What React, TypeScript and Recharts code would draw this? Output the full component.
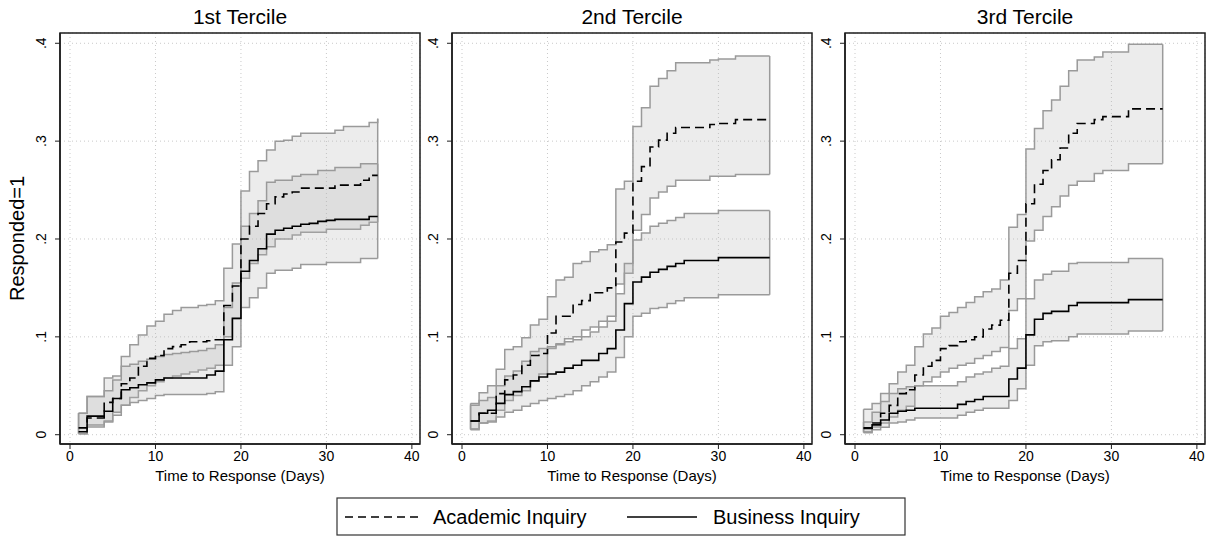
import React from 'react';
import { ComposedChart, Area, Line, XAxis, YAxis, CartesianGrid, ReferenceLine, ReferenceArea } from 'recharts';

// ---------- data ----------
const days = [1, 2, 3, 4, 5, 6, 7, 8, 9, 10, 11, 12, 13, 14, 15, 16, 17, 18, 19, 20, 21, 22, 23, 24, 25, 26, 27, 28, 29, 30, 31, 32, 33, 34, 35, 36];
const xTicks = [0, 10, 20, 30, 40];
const yTicks = [0, 0.1, 0.2, 0.3, 0.4];
const yTickLabels = ['0', '.1', '.2', '.3', '.4'];
const panelTitles = ['1st Tercile', '2nd Tercile', '3rd Tercile'];
const seriesNames = ['Academic Inquiry', 'Business Inquiry'];
const xTitle = 'Time to Response (Days)';
const yTitle = 'Responded=1';

// 1st tercile
const t1AcadEst = [.007, .017, .017, .033, .037, .052, .058, .070, .078, .081, .088, .090, .092, .095, .095, .096, .097, .132, .152, .200, .213, .226, .236, .243, .246, .248, .252, .252, .252, .252, .255, .255, .255, .260, .265, .265];
const t1AcadHi = [.022, .039, .039, .058, .060, .080, .092, .102, .111, .116, .123, .127, .130, .130, .132, .133, .137, .170, .195, .249, .269, .280, .291, .300, .301, .305, .308, .308, .308, .308, .311, .315, .315, .315, .319, .323];
const t1AcadLo = [.001, .008, .008, .013, .020, .030, .038, .045, .050, .054, .058, .060, .062, .064, .066, .068, .071, .100, .118, .160, .175, .184, .192, .200, .200, .204, .207, .207, .207, .210, .210, .210, .210, .214, .217, .217];
const t1BusEst = [.003, .019, .019, .024, .037, .046, .048, .051, .053, .056, .058, .058, .058, .058, .058, .061, .065, .097, .119, .167, .178, .190, .205, .209, .211, .213, .215, .216, .218, .219, .220, .220, .220, .220, .223, .223];
const t1BusHi = [.022, .039, .039, .045, .056, .070, .072, .075, .077, .080, .082, .083, .084, .085, .086, .088, .092, .130, .155, .213, .226, .239, .258, .260, .260, .264, .266, .266, .270, .270, .273, .273, .273, .277, .277, .277];
const t1BusLo = [.001, .010, .010, .014, .023, .030, .033, .035, .037, .040, .041, .041, .041, .041, .041, .042, .044, .071, .090, .130, .140, .150, .165, .168, .168, .170, .174, .174, .174, .176, .176, .176, .176, .180, .180, .180];

// 2nd tercile
const t2AcadEst = [.014, .022, .022, .042, .056, .061, .071, .081, .083, .104, .121, .121, .133, .137, .145, .145, .150, .197, .206, .259, .274, .294, .301, .308, .314, .314, .314, .314, .317, .318, .318, .322, .322, .322, .322, .322];
const t2AcadHi = [.032, .043, .050, .067, .087, .090, .099, .112, .118, .141, .158, .161, .175, .177, .187, .189, .194, .251, .259, .315, .334, .356, .364, .372, .380, .380, .380, .380, .383, .384, .384, .387, .387, .387, .387, .387];
const t2AcadLo = [.006, .012, .014, .025, .035, .040, .045, .055, .062, .088, .093, .098, .100, .107, .110, .116, .121, .154, .165, .209, .225, .242, .248, .254, .260, .260, .260, .260, .264, .264, .264, .266, .266, .266, .266, .266];
const t2BusEst = [.014, .022, .025, .032, .041, .044, .049, .055, .059, .062, .064, .068, .071, .076, .076, .083, .088, .107, .134, .156, .161, .166, .169, .172, .175, .178, .178, .178, .178, .181, .181, .181, .181, .181, .181, .181];
const t2BusHi = [.030, .035, .038, .050, .060, .065, .075, .085, .088, .090, .092, .095, .097, .100, .105, .110, .116, .144, .175, .199, .206, .213, .216, .219, .222, .226, .226, .226, .226, .229, .229, .229, .229, .229, .229, .229];
const t2BusLo = [.005, .012, .013, .018, .023, .025, .029, .032, .035, .037, .039, .041, .045, .050, .054, .059, .064, .079, .100, .121, .124, .129, .130, .134, .137, .140, .140, .140, .140, .143, .143, .143, .143, .143, .143, .143];

// 3rd tercile
const t3AcadEst = [.0065, .012, .022, .030, .042, .046, .061, .070, .076, .088, .091, .095, .097, .100, .108, .112, .117, .165, .178, .236, .256, .270, .281, .293, .308, .318, .318, .322, .325, .325, .325, .333, .333, .333, .333, .333];
const t3AcadHi = [.026, .032, .042, .052, .064, .071, .090, .103, .109, .121, .125, .130, .135, .141, .146, .149, .158, .212, .225, .292, .313, .331, .342, .356, .372, .383, .383, .386, .391, .391, .391, .399, .399, .399, .399, .399];
const t3AcadLo = [.003, .008, .012, .018, .025, .029, .050, .054, .059, .064, .068, .071, .073, .078, .081, .085, .089, .127, .139, .198, .209, .223, .233, .244, .255, .259, .259, .267, .270, .270, .270, .277, .277, .277, .277, .277];
const t3BusEst = [.007, .010, .015, .022, .024, .025, .027, .027, .027, .027, .027, .031, .034, .036, .039, .039, .039, .057, .068, .102, .118, .124, .126, .126, .132, .135, .135, .135, .135, .135, .135, .138, .138, .138, .138, .138];
const t3BusHi = [.013, .023, .034, .042, .047, .049, .050, .050, .050, .050, .050, .054, .059, .062, .064, .068, .070, .088, .098, .139, .158, .164, .167, .167, .175, .176, .176, .176, .176, .176, .176, .180, .180, .180, .180, .180];
const t3BusLo = [.002, .005, .0075, .012, .013, .015, .017, .017, .017, .017, .017, .020, .023, .025, .027, .027, .027, .035, .047, .071, .091, .095, .096, .096, .100, .103, .103, .103, .103, .103, .103, .106, .106, .106, .106, .106];

// ---------- layout ----------
const X_DOMAIN: [number, number] = [-1.17, 40.95];
const Y_DOMAIN: [number, number] = [-0.0095, 0.4105];
const PLOT_LEFTS = [60, 452, 845];
const PLOT_W = 360;
const PLOT_TOP = 33;
const PLOT_H = 411;
const YAXIS_W = 45;
const XAXIS_H = 30;
const FONT = '"Liberation Sans", Arial, Helvetica, sans-serif';
const BAND_FILL = '#b4b4b4';
const BAND_STROKE = '#9a9a9a';
const AXIS_COLOR = '#1e1e1e';

type PanelSeries = { aEst: number[]; aLo: number[]; aHi: number[]; bEst: number[]; bLo: number[]; bHi: number[] };
const panels: PanelSeries[] = [
  { aEst: t1AcadEst, aLo: t1AcadLo, aHi: t1AcadHi, bEst: t1BusEst, bLo: t1BusLo, bHi: t1BusHi },
  { aEst: t2AcadEst, aLo: t2AcadLo, aHi: t2AcadHi, bEst: t2BusEst, bLo: t2BusLo, bHi: t2BusHi },
  { aEst: t3AcadEst, aLo: t3AcadLo, aHi: t3AcadHi, bEst: t3BusEst, bLo: t3BusLo, bHi: t3BusHi },
];

const buildRows = (p: PanelSeries) =>
  days.map((d, i) => ({
    day: d,
    aEst: p.aEst[i],
    aBand: [p.aLo[i], p.aHi[i]],
    bEst: p.bEst[i],
    bBand: [p.bLo[i], p.bHi[i]],
  }));

const YTick = (props: any) => {
  const { x, y, payload } = props;
  const idx = yTicks.indexOf(payload.value);
  const label = idx >= 0 ? yTickLabels[idx] : String(payload.value);
  const bx = x - 7;
  return (
    <text x={bx} y={y} transform={`rotate(-90 ${bx} ${y})`} textAnchor="middle" fontSize={14} fill="#000" fontFamily={FONT}>
      {label}
    </text>
  );
};

const XTick = (props: any) => {
  const { x, y, payload } = props;
  return (
    <text x={x} y={y + 10} textAnchor="middle" fontSize={14} fill="#000" fontFamily={FONT}>
      {String(payload.value)}
    </text>
  );
};

function Panel({ p, left }: { p: PanelSeries; left: number }) {
  const rows = buildRows(p);
  const first = 0;
  const last = days.length - 1;
  const edge = (x: number, lo: number, hi: number, key: string) => (
    <ReferenceLine
      key={key}
      segment={[{ x, y: lo }, { x, y: hi }]}
      stroke={BAND_STROKE}
      strokeWidth={1.5}
      ifOverflow="visible"
    />
  );
  return (
    <div style={{ position: 'absolute', left: left - YAXIS_W, top: 0 }}>
      <ComposedChart
        width={YAXIS_W + PLOT_W + 3}
        height={PLOT_TOP + PLOT_H + XAXIS_H}
        data={rows}
        margin={{ top: PLOT_TOP, right: 3, bottom: 0, left: 0 }}
      >
        <CartesianGrid stroke="#c9c9c9" strokeDasharray="1 3" strokeWidth={1} />
        <XAxis
          dataKey="day"
          type="number"
          domain={X_DOMAIN}
          ticks={xTicks}
          allowDataOverflow
          height={XAXIS_H}
          tickSize={5}
          tick={<XTick />}
          axisLine={{ stroke: AXIS_COLOR, strokeWidth: 1.5 }}
          tickLine={{ stroke: AXIS_COLOR, strokeWidth: 1 }}
        />
        <YAxis
          type="number"
          domain={Y_DOMAIN}
          ticks={yTicks}
          allowDataOverflow
          width={YAXIS_W}
          tickSize={5}
          tick={<YTick />}
          axisLine={{ stroke: AXIS_COLOR, strokeWidth: 1.5 }}
          tickLine={{ stroke: AXIS_COLOR, strokeWidth: 1 }}
        />
        <Area dataKey="aBand" type="stepAfter" stroke={BAND_STROKE} strokeWidth={1.5} fill={BAND_FILL} fillOpacity={0.25} isAnimationActive={false} dot={false} activeDot={false} />
        <Area dataKey="bBand" type="stepAfter" stroke={BAND_STROKE} strokeWidth={1.5} fill={BAND_FILL} fillOpacity={0.25} isAnimationActive={false} dot={false} activeDot={false} />
        {edge(days[first], p.aLo[first], p.aHi[first], 'a0')}
        {edge(days[last], p.aLo[last], p.aHi[last], 'a1')}
        {edge(days[first], p.bLo[first], p.bHi[first], 'b0')}
        {edge(days[last], p.bLo[last], p.bHi[last], 'b1')}
        <Line dataKey="aEst" type="stepAfter" stroke="#000" strokeWidth={1.6} strokeDasharray="9 5" dot={false} activeDot={false} isAnimationActive={false} />
        <Line dataKey="bEst" type="stepAfter" stroke="#000" strokeWidth={1.6} dot={false} activeDot={false} isAnimationActive={false} />
        <ReferenceArea
          x1={X_DOMAIN[0]}
          x2={X_DOMAIN[1]}
          y1={Y_DOMAIN[0]}
          y2={Y_DOMAIN[1]}
          fill="none"
          fillOpacity={0}
          stroke={AXIS_COLOR}
          strokeWidth={1.5}
          ifOverflow="visible"
        />
      </ComposedChart>
    </div>
  );
}

export default function App() {
  return (
    <div style={{ position: 'absolute', left: 0, top: 0, width: 1211, height: 536, background: '#fff', fontFamily: FONT }}>
      {panels.map((p, i) => (
        <Panel key={i} p={p} left={PLOT_LEFTS[i]} />
      ))}
      <svg width={1211} height={536} style={{ position: 'absolute', left: 0, top: 0, pointerEvents: 'none' }}>
        {panelTitles.map((t, i) => (
          <text key={t} x={PLOT_LEFTS[i] + PLOT_W / 2} y={24} textAnchor="middle" fontSize={21} fill="#000" fontFamily={FONT}>
            {t}
          </text>
        ))}
        {panelTitles.map((t, i) => (
          <text key={'xl' + t} x={PLOT_LEFTS[i] + PLOT_W / 2} y={481} textAnchor="middle" fontSize={15} fill="#000" fontFamily={FONT}>
            {xTitle}
          </text>
        ))}
        <text x={24} y={PLOT_TOP + PLOT_H / 2} transform={`rotate(-90 24 ${PLOT_TOP + PLOT_H / 2})`} textAnchor="middle" fontSize={20} fill="#000" fontFamily={FONT}>
          {yTitle}
        </text>
        <rect x={337} y={498} width={568} height={37} fill="none" stroke="#333" strokeWidth={1.2} />
        <line x1={345} y1={517} x2={421} y2={517} stroke="#000" strokeWidth={1.5} strokeDasharray="8 5" />
        <text x={433} y={524} fontSize={20} fill="#000" fontFamily={FONT}>{seriesNames[0]}</text>
        <line x1={627} y1={517} x2={697} y2={517} stroke="#000" strokeWidth={1.5} />
        <text x={713} y={524} fontSize={20} fill="#000" fontFamily={FONT}>{seriesNames[1]}</text>
      </svg>
    </div>
  );
}
